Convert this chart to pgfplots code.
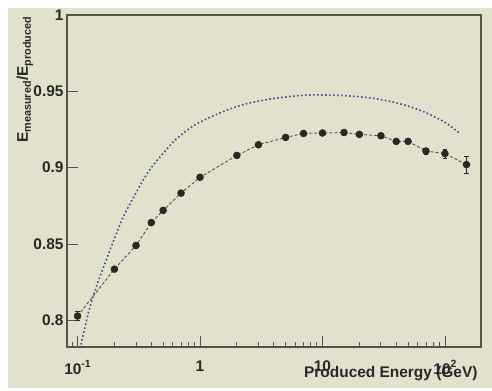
\documentclass[border=0pt]{standalone}
\usepackage{fontspec}
\setmainfont{Liberation Sans}
\usepackage{pgfplots}
\pgfplotsset{compat=1.18}
\definecolor{bg}{RGB}{226,225,206}
\definecolor{ink}{RGB}{40,40,38}
\definecolor{frame}{RGB}{85,85,78}
\definecolor{dotblue}{RGB}{65,75,145}
\definecolor{dashgray}{RGB}{85,85,80}
\newcommand{\mysup}[1]{\raisebox{0.42em}{\fontsize{10.5}{10.5}\selectfont #1}}
\begin{document}
\begin{tikzpicture}[x=1bp,y=1bp]
\fill[white] (0,0) rectangle (492,390);
\fill[bg] (8,2) rectangle (492,382);
\begin{axis}[
  at={(67bp,43bp)}, anchor=south west,
  scale only axis, width=414bp, height=332bp,
  xmode=log, xmin=0.082, xmax=197, ymin=0.7825, ymax=1,
  axis line style={draw=frame, line width=1.1bp},
  tick align=inside, xtick pos=bottom, ytick pos=left,
  major tick length=11bp, minor tick length=5bp,
  every tick/.style={draw=frame, line width=0.9bp},
  xtick={0.1,1,10,100},
  xticklabels={10\mysup{-1},1,10,10\mysup{2}},
  minor xtick={0.09,0.2,0.3,0.4,0.5,0.6,0.7,0.8,0.9,2,3,4,5,6,7,8,9,20,30,40,50,60,70,80,90},
  ytick={0.8,0.85,0.9,0.95,1},
  yticklabels={0.8,0.85,0.9,0.95,1},
  minor ytick={},
  ticklabel style={font=\bfseries\fontsize{15.5}{15.5}\selectfont, text=ink},
  xticklabel style={yshift=-10bp},
  xlabel={Produced Energy (GeV)},
  ylabel={E\textsubscript{measured}/E\textsubscript{produced}},
  label style={font=\bfseries\fontsize{15.5}{15.5}\selectfont, text=ink},
  xlabel style={at={(rel axis cs:1,0)}, anchor=base east, yshift=-30bp},
  ylabel style={at={(rel axis cs:0,1)}, anchor=base east, yshift=39bp, xshift=2bp},
  clip=true,
]
\addplot[dotblue, line width=1.6bp, dash pattern=on 1.6bp off 2.4bp, smooth] table {
x y
0.103 0.779
0.115 0.7955
0.126 0.8085
0.143 0.8225
0.167 0.837
0.19 0.849
0.234 0.867
0.28 0.879
0.341 0.8915
0.4 0.900
0.468 0.9067
0.64 0.9187
0.93 0.9285
1.58 0.937
2.3 0.9415
3.4 0.9444
5 0.9463
7.2 0.9475
10 0.9476
15 0.9472
25 0.9456
40 0.9425
64 0.9373
100 0.9297
132 0.9224
};
\addplot[dashgray, line width=0.9bp, dash pattern=on 3bp off 2bp,
  mark=*, mark size=3.3bp, mark options={solid, fill=ink, draw=ink},
  error bars/.cd, y dir=both, y explicit,
  error bar style={solid, line width=0.8bp, ink},
  error mark options={rotate=90, mark size=2.2bp, ink, solid}]
  table[x=x, y=y, y error=e] {
x y e
0.1 0.8028 0.003
0.2 0.8335 0.001
0.3 0.849 0.001
0.4 0.864 0.001
0.5 0.872 0.001
0.7 0.8833 0.001
1 0.8937 0.001
2 0.908 0.001
3 0.915 0.001
5 0.9198 0.001
7 0.9224 0.001
10 0.9227 0.001
15 0.923 0.001
20 0.9218 0.001
30 0.9209 0.001
40 0.9172 0.001
50 0.9172 0.0015
70 0.9109 0.002
100 0.9092 0.003
150 0.902 0.0055
};
\end{axis}
\end{tikzpicture}
\end{document}
